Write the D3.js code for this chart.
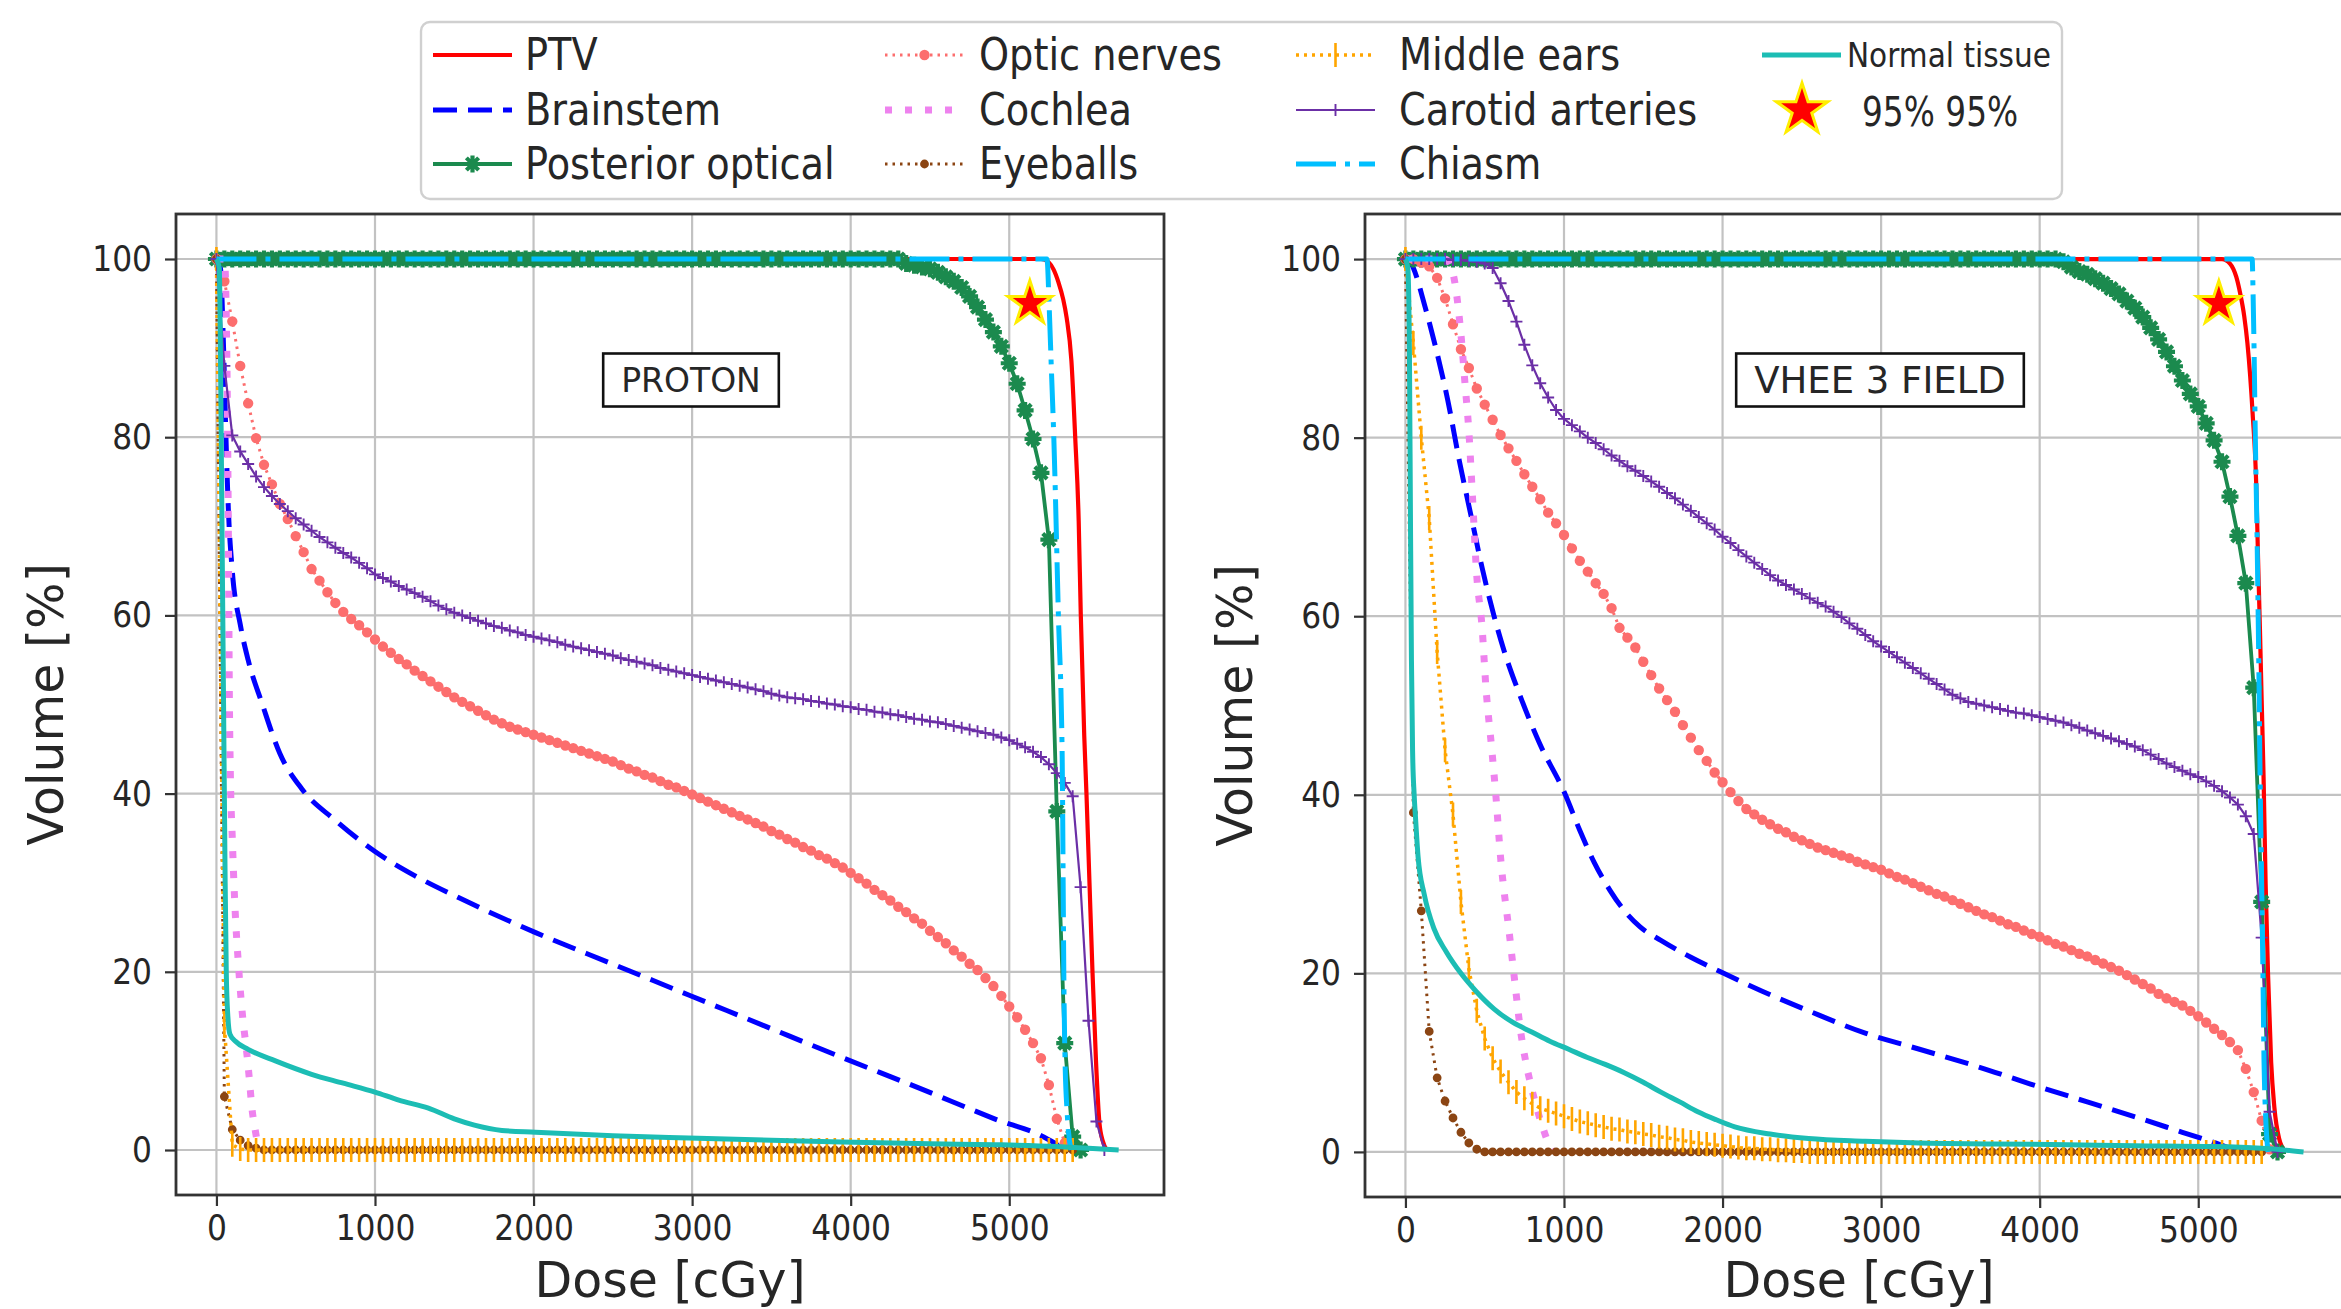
<!DOCTYPE html>
<html>
<head>
<meta charset="utf-8">
<title>Dose-volume histograms: proton vs VHEE 3 field</title>
<script src="https://cdn.jsdelivr.net/npm/d3@7"></script>
<style>
  html, body { margin: 0; padding: 0; background: #ffffff; }
  svg { display: block; font-family: "DejaVu Sans", sans-serif; }
</style>
</head>
<body>
<svg id="chart" width="2341" height="1309"></svg>
<script>
// ------------------------------------------------------------------
// Data
// ------------------------------------------------------------------

// Structure names, in plotting / legend order
const structureNames = ["PTV", "Brainstem", "Posterior optical", "Optic nerves", "Cochlea",
  "Eyeballs", "Middle ears", "Carotid arteries", "Chiasm", "Normal tissue"];

// Axis ticks
const doseTicks = [0, 1000, 2000, 3000, 4000, 5000];
const volumeTicks = [0, 20, 40, 60, 80, 100];

// 95% of the volume receiving 95% of the prescribed dose
const targetPoint = [5130, 95];

// Dose bins (cGy) shared by the binned DVH curves below
const doseBins = [
  0, 50, 100, 150, 200, 250, 300, 350, 400, 450,
  500, 550, 600, 650, 700, 750, 800, 850, 900, 950,
  1000, 1050, 1100, 1150, 1200, 1250, 1300, 1350, 1400, 1450,
  1500, 1550, 1600, 1650, 1700, 1750, 1800, 1850, 1900, 1950,
  2000, 2050, 2100, 2150, 2200, 2250, 2300, 2350, 2400, 2450,
  2500, 2550, 2600, 2650, 2700, 2750, 2800, 2850, 2900, 2950,
  3000, 3050, 3100, 3150, 3200, 3250, 3300, 3350, 3400, 3450,
  3500, 3550, 3600, 3650, 3700, 3750, 3800, 3850, 3900, 3950,
  4000, 4050, 4100, 4150, 4200, 4250, 4300, 4350, 4400, 4450,
  4500, 4550, 4600, 4650, 4700, 4750, 4800, 4850, 4900, 4950,
  5000, 5050, 5100, 5150, 5200, 5250, 5300, 5350, 5400, 5450,
  5500, 5550, 5600, 5650, 5700
];

// ---------------- PROTON plan ----------------
// [dose cGy, volume %]
const protonPTV = [[0, 100], [5200, 100], [5250, 99.6], [5280, 98.8], [5310, 97.4], [5340, 95.5],
  [5362, 93.4], [5392, 88.6], [5416, 80], [5438, 70.6], [5451, 60.2], [5473, 46.5], [5487, 40],
  [5506, 30], [5525, 20], [5547, 10], [5569, 3], [5590, 1], [5615, 0]];

const protonBrainstem = [[0, 100], [25, 99], [45, 90], [60, 80], [75, 72], [100, 65], [150, 59],
  [200, 55], [290, 50], [400, 44.5], [540, 40.5], [750, 37], [1000, 33.5], [1250, 30.8],
  [1530, 28.3], [2013, 24.4], [2495, 20.9], [2978, 17.4], [3460, 13.9], [3943, 10.4],
  [4425, 7], [4907, 3.5], [5245, 1.2], [5300, 0.6], [5330, 0]];

// volumes on doseBins
const protonPosteriorOptical = [
  100, 100, 100, 100, 100, 100, 100, 100, 100, 100,
  100, 100, 100, 100, 100, 100, 100, 100, 100, 100,
  100, 100, 100, 100, 100, 100, 100, 100, 100, 100,
  100, 100, 100, 100, 100, 100, 100, 100, 100, 100,
  100, 100, 100, 100, 100, 100, 100, 100, 100, 100,
  100, 100, 100, 100, 100, 100, 100, 100, 100, 100,
  100, 100, 100, 100, 100, 100, 100, 100, 100, 100,
  100, 100, 100, 100, 100, 100, 100, 100, 100, 100,
  100, 100, 100, 100, 100, 100, 100, 99.5, 99.3, 99.1,
  98.9, 98.5, 98.0, 97.5, 96.8, 95.8, 94.6, 93.2, 91.8, 90.2,
  88.3, 86.0, 83.0, 79.8, 76.0, 68.5, 38.0, 12.0, 1.5, 0
];

const protonOpticNerves = [
  100, 97.5, 93.0, 88.0, 83.8, 79.9, 76.9, 74.7, 72.5, 70.8,
  68.9, 67.1, 65.2, 63.9, 62.6, 61.4, 60.4, 59.6, 58.9, 58.1,
  57.3, 56.5, 55.8, 55.1, 54.5, 53.8, 53.2, 52.6, 52.0, 51.4,
  50.8, 50.3, 49.8, 49.3, 48.8, 48.3, 47.9, 47.5, 47.2, 46.9,
  46.6, 46.3, 46.0, 45.7, 45.4, 45.1, 44.8, 44.5, 44.2, 43.9,
  43.6, 43.2, 42.8, 42.5, 42.1, 41.8, 41.4, 41.0, 40.7, 40.3,
  39.9, 39.5, 39.1, 38.7, 38.3, 37.9, 37.5, 37.1, 36.7, 36.3,
  35.8, 35.4, 34.9, 34.5, 34.0, 33.6, 33.1, 32.7, 32.2, 31.7,
  31.1, 30.5, 29.9, 29.2, 28.6, 28.0, 27.3, 26.7, 26.0, 25.4,
  24.6, 23.9, 23.2, 22.4, 21.7, 20.9, 20.2, 19.3, 18.4, 17.3,
  16.1, 14.9, 13.5, 12.0, 10.3, 7.3, 3.5, 0.8
];

const protonCochlea = [[0, 100], [50, 100], [65, 90], [75, 70], [82, 50], [88, 42], [100, 35],
  [115, 28], [140, 20.5], [165, 15], [189, 11.3], [210, 7.5], [222, 5], [243, 2.4],
  [260, 0.8], [280, 0]];

const protonEyeballs = [
  100, 6, 2.3, 1.1, 0.5, 0.2, 0, 0, 0, 0,
  0, 0, 0, 0, 0, 0, 0, 0, 0, 0,
  0, 0, 0, 0, 0, 0, 0, 0, 0, 0,
  0, 0, 0, 0, 0, 0, 0, 0, 0, 0,
  0, 0, 0, 0, 0, 0, 0, 0, 0, 0,
  0, 0, 0, 0, 0, 0, 0, 0, 0, 0,
  0, 0, 0, 0, 0, 0, 0, 0, 0, 0,
  0, 0, 0, 0, 0, 0, 0, 0, 0, 0,
  0, 0, 0, 0, 0, 0, 0, 0, 0, 0,
  0, 0, 0, 0, 0, 0, 0, 0, 0, 0,
  0, 0, 0, 0, 0, 0, 0, 0, 0
];

const protonMiddleEars = [
  100, 14, 0.6, 0.1, 0, 0, 0, 0, 0, 0,
  0, 0, 0, 0, 0, 0, 0, 0, 0, 0,
  0, 0, 0, 0, 0, 0, 0, 0, 0, 0,
  0, 0, 0, 0, 0, 0, 0, 0, 0, 0,
  0, 0, 0, 0, 0, 0, 0, 0, 0, 0,
  0, 0, 0, 0, 0, 0, 0, 0, 0, 0,
  0, 0, 0, 0, 0, 0, 0, 0, 0, 0,
  0, 0, 0, 0, 0, 0, 0, 0, 0, 0,
  0, 0, 0, 0, 0, 0, 0, 0, 0, 0,
  0, 0, 0, 0, 0, 0, 0, 0, 0, 0,
  0, 0, 0, 0, 0, 0, 0, 0, 0
];

const protonCarotid = [
  100, 88, 80.2, 78.4, 77.0, 75.6, 74.4, 73.4, 72.5, 71.7,
  70.9, 70.2, 69.5, 68.8, 68.2, 67.6, 67.0, 66.5, 65.9, 65.3,
  64.6, 64.2, 63.8, 63.3, 62.9, 62.5, 62.1, 61.6, 61.1, 60.7,
  60.3, 60.0, 59.7, 59.4, 59.1, 58.8, 58.6, 58.3, 58.1, 57.8,
  57.6, 57.4, 57.2, 57.0, 56.7, 56.5, 56.3, 56.1, 55.9, 55.7,
  55.5, 55.2, 55.0, 54.8, 54.6, 54.4, 54.1, 53.9, 53.7, 53.5,
  53.3, 53.1, 52.9, 52.7, 52.5, 52.3, 52.1, 51.9, 51.7, 51.5,
  51.2, 51.0, 50.8, 50.7, 50.6, 50.4, 50.3, 50.1, 50.0, 49.8,
  49.7, 49.5, 49.4, 49.2, 49.1, 48.9, 48.8, 48.6, 48.4, 48.3,
  48.1, 48.0, 47.8, 47.6, 47.4, 47.2, 47.0, 46.8, 46.6, 46.3,
  46.0, 45.6, 45.2, 44.7, 44.1, 43.3, 42.3, 41.2, 39.7, 29.5,
  14.5, 3.2, 0
];

const protonChiasm = [[0, 100], [5238, 100], [5252, 94.6], [5265, 88], [5281, 80], [5310, 60],
  [5334, 44], [5340, 30], [5344, 20], [5352, 10], [5366, 4], [5390, 0]];

const protonNormalTissue = [[0, 100], [18, 99], [25, 90], [35, 70], [45, 50], [55, 30], [62, 20],
  [72, 15], [85, 13], [120, 12.2], [200, 11.3], [372, 10], [600, 8.5], [800, 7.5], [1000, 6.5],
  [1150, 5.6], [1337, 4.7], [1500, 3.5], [1627, 2.8], [1800, 2.2], [2013, 2.0], [2500, 1.6],
  [2978, 1.35], [3500, 1.1], [3943, 0.9], [4500, 0.7], [4908, 0.6], [5300, 0.4], [5500, 0.2],
  [5690, 0]];

// ---------------- VHEE 3 field plan ----------------
const vheePTV = [[0, 100], [5150, 100], [5200, 99.5], [5240, 98], [5264, 96.2], [5290, 93.6],
  [5310, 90.6], [5343, 82.7], [5366, 74.6], [5377, 66.6], [5389, 58.6], [5400, 50.6],
  [5412, 42], [5425, 30], [5440, 20], [5460, 10], [5480, 5], [5510, 1.5], [5550, 0]];

const vheeBrainstem = [[0, 100], [20, 100], [50, 99], [123, 94.7], [195, 89.8], [267, 84.2],
  [340, 77.4], [412, 71.4], [484, 65.4], [556, 60.2], [628, 55.8], [725, 51], [845, 45.8],
  [1004, 40.2], [1100, 36], [1191, 32.4], [1290, 29.3], [1377, 27.1], [1480, 25.2],
  [1611, 23.7], [1800, 21.8], [1984, 20.2], [2250, 18], [2543, 15.8], [2900, 13.3],
  [3242, 11.5], [3600, 9.6], [3942, 7.6], [4300, 5.6], [4641, 3.7], [4900, 2.2],
  [5108, 1], [5200, 0.4], [5250, 0]];

const vheePosteriorOptical = [
  100, 100, 100, 100, 100, 100, 100, 100, 100, 100,
  100, 100, 100, 100, 100, 100, 100, 100, 100, 100,
  100, 100, 100, 100, 100, 100, 100, 100, 100, 100,
  100, 100, 100, 100, 100, 100, 100, 100, 100, 100,
  100, 100, 100, 100, 100, 100, 100, 100, 100, 100,
  100, 100, 100, 100, 100, 100, 100, 100, 100, 100,
  100, 100, 100, 100, 100, 100, 100, 100, 100, 100,
  100, 100, 100, 100, 100, 100, 100, 100, 100, 100,
  100, 100, 100, 99.7, 99.1, 98.6, 98.3, 97.8, 97.3, 96.7,
  96.1, 95.3, 94.5, 93.5, 92.3, 91.0, 89.6, 88.0, 86.4, 84.9,
  83.5, 81.6, 79.7, 77.3, 73.4, 69.0, 63.7, 52.0, 28.0, 2.0,
  0
];

const vheeOpticNerves = [
  100, 100, 99.6, 99.2, 97.9, 95.6, 92.7, 89.9, 87.8, 85.5,
  83.7, 82.0, 80.3, 78.8, 77.4, 75.9, 74.5, 73.1, 71.6, 70.4,
  69.1, 67.6, 66.2, 65.0, 63.7, 62.5, 60.9, 58.7, 57.6, 56.5,
  54.9, 53.4, 51.9, 50.6, 49.3, 47.8, 46.4, 45.0, 43.8, 42.5,
  41.4, 40.3, 39.3, 38.4, 37.8, 37.2, 36.7, 36.2, 35.8, 35.3,
  34.9, 34.5, 34.1, 33.8, 33.5, 33.2, 32.9, 32.5, 32.2, 31.9,
  31.6, 31.2, 30.8, 30.5, 30.1, 29.7, 29.3, 28.9, 28.6, 28.2,
  27.8, 27.4, 27.0, 26.6, 26.3, 25.9, 25.5, 25.2, 24.8, 24.4,
  24.1, 23.7, 23.3, 23.0, 22.6, 22.2, 21.9, 21.5, 21.1, 20.7,
  20.3, 19.8, 19.3, 18.8, 18.3, 17.7, 17.2, 16.8, 16.4, 15.8,
  15.2, 14.5, 13.8, 13.1, 12.3, 11.4, 9.3, 6.7, 3.5, 0.3
];

const vheeCochlea = [[0, 100], [250, 100], [280, 99.5], [315, 97], [351, 91.4], [375, 86.2],
  [400, 80.7], [424, 73], [448, 65], [484, 58.6], [507, 52.2], [545, 45], [570, 40],
  [600, 33], [655, 24.5], [690, 19], [725, 13.7], [760, 10], [795, 7.2], [830, 4.8],
  [865, 2.8], [890, 1.5], [910, 0.6], [930, 0]];

const vheeEyeballs = [
  100, 38, 27, 13.5, 8.3, 5.7, 3.8, 2.2, 1.0, 0.3,
  0, 0, 0, 0, 0, 0, 0, 0, 0, 0,
  0, 0, 0, 0, 0, 0, 0, 0, 0, 0,
  0, 0, 0, 0, 0, 0, 0, 0, 0, 0,
  0, 0, 0, 0, 0, 0, 0, 0, 0, 0,
  0, 0, 0, 0, 0, 0, 0, 0, 0, 0,
  0, 0, 0, 0, 0, 0, 0, 0, 0, 0,
  0, 0, 0, 0, 0, 0, 0, 0, 0, 0,
  0, 0, 0, 0, 0, 0, 0, 0, 0, 0,
  0, 0, 0, 0, 0, 0, 0, 0, 0, 0,
  0, 0, 0, 0, 0, 0, 0, 0, 0
];

const vheeMiddleEars = [
  100, 90.6, 80.0, 71.0, 56.0, 45.0, 37.8, 28.0, 20.5, 15.8,
  12.7, 10.5, 9.0, 7.8, 6.7, 6.0, 5.4, 4.9, 4.6, 4.3,
  4.0, 3.7, 3.4, 3.2, 3.0, 2.8, 2.6, 2.5, 2.3, 2.2,
  2.0, 1.9, 1.7, 1.6, 1.4, 1.3, 1.1, 1.0, 0.9, 0.8,
  0.7, 0.6, 0.5, 0.4, 0.4, 0.3, 0.3, 0.2, 0.2, 0.1,
  0.1, 0, 0, 0, 0, 0, 0, 0, 0, 0,
  0, 0, 0, 0, 0, 0, 0, 0, 0, 0,
  0, 0, 0, 0, 0, 0, 0, 0, 0, 0,
  0, 0, 0, 0, 0, 0, 0, 0, 0, 0,
  0, 0, 0, 0, 0, 0, 0, 0, 0, 0,
  0, 0, 0, 0, 0, 0, 0, 0, 0
];

const vheeCarotid = [
  100, 100, 100, 100, 100, 100, 99.9, 99.9, 99.8, 99.7,
  99.5, 99.0, 97.3, 95.3, 93.0, 90.4, 88.1, 86.1, 84.5, 83.1,
  82.1, 81.4, 80.7, 80.0, 79.4, 78.7, 78.0, 77.4, 76.8, 76.3,
  75.7, 75.1, 74.5, 73.8, 73.2, 72.5, 71.8, 71.1, 70.4, 69.7,
  68.9, 68.2, 67.4, 66.7, 66.0, 65.3, 64.6, 64.0, 63.5, 63.0,
  62.5, 62.0, 61.5, 61.1, 60.5, 59.9, 59.2, 58.6, 57.9, 57.2,
  56.6, 56.0, 55.4, 54.8, 54.2, 53.6, 53.0, 52.4, 51.8, 51.2,
  50.8, 50.4, 50.2, 50.0, 49.8, 49.6, 49.4, 49.2, 49.1, 48.9,
  48.7, 48.5, 48.3, 48.1, 47.8, 47.5, 47.2, 46.9, 46.6, 46.3,
  46.0, 45.7, 45.4, 45.0, 44.5, 44.0, 43.5, 43.1, 42.7, 42.3,
  42.0, 41.5, 41.0, 40.4, 39.7, 38.9, 37.6, 35.6, 24.0, 4.5,
  0
];

const vheeChiasm = [[0, 100], [5340, 100], [5346, 96], [5352, 90], [5360, 80], [5370, 70],
  [5378, 60], [5385, 50], [5390, 42], [5400, 30], [5408, 20], [5415, 10], [5425, 4], [5440, 0]];

const vheeNormalTissue = [[0, 100], [15, 99], [25, 90], [32, 70], [38, 55], [45, 45], [55, 40],
  [63, 37.6], [80, 33], [118, 28.9], [180, 25], [258, 22.4], [350, 20], [445, 18], [560, 16],
  [678, 14.5], [800, 13.4], [911, 12.4], [1030, 11.5], [1144, 10.6], [1260, 9.8], [1377, 8.9],
  [1500, 7.8], [1611, 6.7], [1730, 5.6], [1844, 4.5], [1960, 3.6], [2077, 2.8], [2300, 2],
  [2543, 1.5], [2900, 1.2], [3242, 1], [3700, 0.9], [4175, 0.8], [4600, 0.7], [5108, 0.6],
  [5400, 0.4], [5550, 0.2], [5664, 0]];

// ------------------------------------------------------------------
// Styling
// ------------------------------------------------------------------
const seriesStyles = [
  { color: "#ff0000", width: 4.2, smooth: true },                                  // PTV
  { color: "#0000ff", width: 5, dash: "24 11", smooth: true },                     // Brainstem
  { color: "#1b8a4e", width: 3.8, marker: "asterisk", size: 8.5 },                 // Posterior optical
  { color: "#fc6e6e", width: 3, dash: "2.5 5", marker: "circle", size: 5.2 },      // Optic nerves
  { color: "#ee82ee", width: 7, dash: "7 13", smooth: true },                      // Cochlea
  { color: "#8b4513", width: 3, dash: "2.5 5", marker: "circle", size: 4.4 },      // Eyeballs
  { color: "#ffa500", width: 3.5, dash: "3 5", marker: "vbar", size: 12 },         // Middle ears
  { color: "#6b2fa6", width: 2.2, marker: "plus", size: 6 },                       // Carotid arteries
  { color: "#00bfff", width: 5, dash: "40 9 5 9", smooth: true },                  // Chiasm
  { color: "#1cbdb4", width: 5, smooth: true }                                     // Normal tissue
];

const frameColor = "#333333";
const textColor = "#262626";
const gridColor = "#c2c2c2";
const squeeze = 0.87;   // horizontal condensing of labels

const fromBins = vols => vols.map((v, i) => [doseBins[i], v]);

const panels = [
  {
    id: "proton", title: "PROTON", titleSize: 33,
    left: 176, right: 1164, top: 214, bottom: 1195,
    series: [protonPTV, protonBrainstem, fromBins(protonPosteriorOptical),
      fromBins(protonOpticNerves), protonCochlea, fromBins(protonEyeballs),
      fromBins(protonMiddleEars), fromBins(protonCarotid), protonChiasm, protonNormalTissue]
  },
  {
    id: "vhee", title: "VHEE 3 FIELD", titleSize: 37,
    left: 1365, right: 2353, top: 214, bottom: 1197,
    series: [vheePTV, vheeBrainstem, fromBins(vheePosteriorOptical),
      fromBins(vheeOpticNerves), vheeCochlea, fromBins(vheeEyeballs),
      fromBins(vheeMiddleEars), fromBins(vheeCarotid), vheeChiasm, vheeNormalTissue]
  }
];

// ------------------------------------------------------------------
// Helpers
// ------------------------------------------------------------------
const svg = d3.select("#chart");

function addText(g, x, y, str, size, anchor, sx = squeeze) {
  return g.append("text")
    .attr("transform", `translate(${x},${y}) scale(${sx},1)`)
    .attr("text-anchor", anchor)
    .attr("font-size", size)
    .attr("fill", textColor)
    .text(str);
}

function markerPath(type, cx, cy, s) {
  switch (type) {
    case "circle":
      return `M${cx - s},${cy}a${s},${s} 0 1,0 ${2 * s},0a${s},${s} 0 1,0 ${-2 * s},0Z`;
    case "vbar":
      return `M${cx},${cy - s}V${cy + s}`;
    case "plus":
      return `M${cx - s},${cy}H${cx + s}M${cx},${cy - s}V${cy + s}`;
    case "asterisk": {
      const k = s * 0.72;
      return `M${cx - s},${cy}H${cx + s}M${cx},${cy - s}V${cy + s}` +
        `M${cx - k},${cy - k}L${cx + k},${cy + k}M${cx - k},${cy + k}L${cx + k},${cy - k}`;
    }
  }
  return "";
}

function styleMarkers(path, st) {
  if (st.marker === "circle") {
    path.attr("fill", st.color).attr("stroke", "none");
  } else {
    path.attr("fill", "none").attr("stroke", st.color)
      .attr("stroke-width", st.marker === "asterisk" ? 4.2 : st.marker === "vbar" ? 2.6 : 1.9)
      .attr("stroke-linecap", "butt");
  }
}

function starPath(cx, cy, R) {
  const r = R * 0.382;
  const pts = [];
  for (let i = 0; i < 10; i++) {
    const a = -Math.PI / 2 + i * Math.PI / 5;
    const rr = i % 2 === 0 ? R : r;
    pts.push([cx + Math.cos(a) * rr, cy + Math.sin(a) * rr]);
  }
  return "M" + pts.map(p => p[0].toFixed(2) + "," + p[1].toFixed(2)).join("L") + "Z";
}

function drawStar(g, cx, cy, R) {
  g.append("path")
    .attr("d", starPath(cx, cy, R))
    .attr("fill", "#ff0000")
    .attr("stroke", "#ffee00")
    .attr("stroke-width", 3)
    .attr("stroke-linejoin", "miter");
}

// ------------------------------------------------------------------
// Panels
// ------------------------------------------------------------------
panels.forEach(p => {
  const x = d3.scaleLinear().domain([-255, 5976]).range([p.left, p.right]);
  const y = d3.scaleLinear().domain([-5.05, 105.05]).range([p.bottom, p.top]);
  const g = svg.append("g").attr("class", "panel-" + p.id);

  const clipId = "clip-" + p.id;
  g.append("clipPath").attr("id", clipId)
    .append("rect")
    .attr("x", p.left).attr("y", p.top)
    .attr("width", p.right - p.left).attr("height", p.bottom - p.top);

  // grid
  const grid = g.append("g").attr("stroke", gridColor).attr("stroke-width", 2.2);
  grid.selectAll("line.vx").data(doseTicks).join("line")
    .attr("x1", d => x(d)).attr("x2", d => x(d))
    .attr("y1", p.top).attr("y2", p.bottom);
  grid.selectAll("line.hy").data(volumeTicks).join("line")
    .attr("x1", p.left).attr("x2", p.right)
    .attr("y1", d => y(d)).attr("y2", d => y(d));

  // curves
  const plot = g.append("g").attr("clip-path", `url(#${clipId})`);
  p.series.forEach((pts, i) => {
    const st = seriesStyles[i];
    const line = d3.line()
      .x(d => x(d[0])).y(d => y(d[1]))
      .curve(st.smooth ? d3.curveMonotoneX : d3.curveLinear);
    plot.append("path")
      .attr("class", "dvh")
      .attr("data-structure", structureNames[i])
      .attr("d", line(pts))
      .attr("fill", "none")
      .attr("stroke", st.color)
      .attr("stroke-width", st.width)
      .attr("stroke-dasharray", st.dash || null)
      .attr("stroke-linejoin", "round");
    if (st.marker) {
      const d = pts.map(q => markerPath(st.marker, x(q[0]), y(q[1]), st.size)).join("");
      styleMarkers(plot.append("path").attr("d", d), st);
    }
  });

  // 95% / 95% point
  drawStar(plot, x(targetPoint[0]), y(targetPoint[1]), 23);

  // plan label box
  const lab = g.append("g");
  const cx = p.left + 515, cy = 380;
  const t = lab.append("text")
    .attr("x", cx).attr("y", cy)
    .attr("dy", "0.36em")
    .attr("text-anchor", "middle")
    .attr("font-size", p.titleSize)
    .attr("fill", textColor)
    .text(p.title);
  const bb = t.node().getBBox();
  lab.insert("rect", "text")
    .attr("x", bb.x - 18).attr("y", cy - 26.5)
    .attr("width", bb.width + 36).attr("height", 53)
    .attr("fill", "#ffffff")
    .attr("stroke", "#111111")
    .attr("stroke-width", 2.6);

  // frame
  g.append("rect")
    .attr("x", p.left).attr("y", p.top)
    .attr("width", p.right - p.left).attr("height", p.bottom - p.top)
    .attr("fill", "none").attr("stroke", frameColor).attr("stroke-width", 2.8);

  // axes
  const ax = g.append("g").attr("transform", `translate(0,${p.bottom})`)
    .call(d3.axisBottom(x).tickValues(doseTicks).tickSize(11).tickPadding(8).tickFormat(d3.format("d")));
  const ay = g.append("g").attr("transform", `translate(${p.left},0)`)
    .call(d3.axisLeft(y).tickValues(volumeTicks).tickSize(11).tickPadding(13).tickFormat(d3.format("d")));
  [ax, ay].forEach(a => {
    a.select(".domain").remove();
    a.selectAll(".tick line").attr("stroke", frameColor).attr("stroke-width", 2.2);
    a.selectAll(".tick text")
      .attr("font-size", 36)
      .attr("font-family", "DejaVu Sans, sans-serif")
      .attr("fill", textColor);
  });
  ax.selectAll(".tick text").attr("transform", `scale(${squeeze},1)`);
  ay.selectAll(".tick text").attr("transform", `translate(-24,0) scale(${squeeze},1) translate(24,0)`);

  // axis titles
  addText(g, (p.left + p.right) / 2, 1297, "Dose [cGy]", 49, "middle", 1);
  g.append("text")
    .attr("transform", `translate(${p.left - 113},${(p.top + p.bottom) / 2}) rotate(-90)`)
    .attr("text-anchor", "middle")
    .attr("font-size", 49)
    .attr("fill", textColor)
    .text("Volume [%]");
});

// ------------------------------------------------------------------
// Legend
// ------------------------------------------------------------------
const legend = svg.append("g").attr("class", "legend");
legend.append("rect")
  .attr("x", 421).attr("y", 22).attr("width", 1641).attr("height", 177)
  .attr("rx", 9).attr("ry", 9)
  .attr("fill", "#ffffff").attr("stroke", "#d0d0d0").attr("stroke-width", 2.4);

const legendCols = [
  { hx: 433, tx: 525 },
  { hx: 885, tx: 979 },
  { hx: 1296, tx: 1399 },
  { hx: 1762, tx: 1847 }
];
const legendRows = [55, 110, 164];
const handleLen = 79;

structureNames.forEach((name, i) => {
  const st = seriesStyles[i];
  const col = legendCols[Math.floor(i / 3)];
  const hy = legendRows[i % 3];
  legend.append("line")
    .attr("x1", col.hx).attr("x2", col.hx + handleLen)
    .attr("y1", hy).attr("y2", hy)
    .attr("stroke", st.color)
    .attr("stroke-width", st.width)
    .attr("stroke-dasharray", st.dash || null);
  if (st.marker) {
    styleMarkers(legend.append("path").attr("d", markerPath(st.marker, col.hx + handleLen / 2, hy, st.size)), st);
  }
  if (i === 9) {
    addText(legend, col.tx, hy + 12, name, 34, "start");
  } else {
    addText(legend, col.tx, hy + 15, name, 44, "start");
  }
});

// 95% / 95% legend entry
drawStar(legend, 1802, legendRows[1], 27);
addText(legend, 1862, legendRows[1] + 16, "95% 95%", 40, "start", 0.82);
</script>
</body>
</html>
